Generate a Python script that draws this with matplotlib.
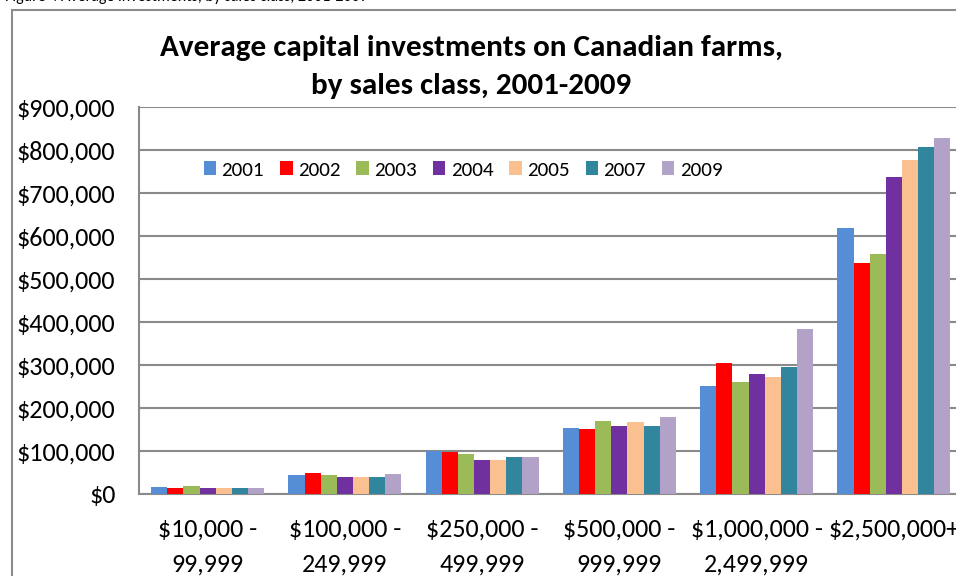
import numpy as np
import matplotlib
matplotlib.use("Agg")
import matplotlib.pyplot as plt
from matplotlib.patches import Rectangle
from matplotlib.ticker import FuncFormatter, MultipleLocator

plt.rcParams['font.family'] = ['Carlito', 'Lato', 'DejaVu Sans']

# Sales classes (x categories)
sales_classes = ["$10,000 -\n99,999", "$100,000 -\n249,999", "$250,000 -\n499,999",
                 "$500,000 -\n999,999", "$1,000,000 -\n2,499,999", "$2,500,000+"]

years = ["2001", "2002", "2003", "2004", "2005", "2007", "2009"]

# Average capital investment per farm, dollars
inv_2001 = [16000, 44000, 99000, 154000, 252000, 618000]
inv_2002 = [15000, 48000, 98500, 151500, 304000, 536000]
inv_2003 = [18000, 45000, 93000, 169000, 260000, 557000]
inv_2004 = [15000, 40000, 79000, 158500, 279000, 736000]
inv_2005 = [15000, 39000, 79000, 167000, 273000, 775000]
inv_2007 = [15000, 40000, 86000, 157000, 294000, 806000]
inv_2009 = [15000, 46000, 86000, 178500, 384000, 827000]
series = [inv_2001, inv_2002, inv_2003, inv_2004, inv_2005, inv_2007, inv_2009]

colors = ["#558ED5", "#FF0000", "#9BBB59", "#7030A0", "#FAC090", "#31859C", "#B3A2C7"]

W, H = 956, 576
fig = plt.figure(figsize=(W / 100, H / 100), dpi=100)

# Outer chart frame
fig.patches.append(Rectangle((12 / W, -0.2), 1.5, (H - 9.5) / H + 0.2,
                             transform=fig.transFigure, fill=False,
                             edgecolor="#8c8c8c", linewidth=1.5, zorder=0))

# Caption above the chart frame
fig.text(5 / W, 1 - 1.2 / H, "Figure 4 Average investments, by sales class, 2001-2009",
         fontsize=11.5, ha="left", va="baseline", color="black")

left, right, bottom, top = 139, 962.5, 494, 106.7
ax = fig.add_axes([left / W, (H - bottom) / H, (right - left) / W, (bottom - top) / H])

n = len(series)
bw = 1 / (n + 1.5)
x = np.arange(len(sales_classes))
for i, (vals, yr, c) in enumerate(zip(series, years, colors)):
    ax.bar(x + (i - (n - 1) / 2) * bw, vals, width=bw, color=c, label=yr,
           linewidth=0, zorder=3)

ax.set_xlim(-0.5, len(sales_classes) - 0.5)
ax.set_ylim(0, 900000)
ax.yaxis.set_major_locator(MultipleLocator(100000))
ax.yaxis.set_major_formatter(FuncFormatter(lambda v, p: f"${v:,.0f}"))
ax.grid(axis="y", color="#8a8a8a", linewidth=1.5, zorder=1)
ax.set_axisbelow(True)

for s in ("top", "right"):
    ax.spines[s].set_visible(False)
for s in ("left", "bottom"):
    ax.spines[s].set_color("#8a8a8a")
    ax.spines[s].set_linewidth(1.5)

ax.set_xticks(x)
ax.set_xticklabels(sales_classes, fontsize=18.7, linespacing=1.62)
ax.tick_params(axis="x", length=0, pad=17)
ax.tick_params(axis="y", length=0, pad=17, labelsize=18.8)

ax.legend(loc="center", bbox_to_anchor=((463 - left) / (right - left), (bottom - 170) / (bottom - top)),
          ncol=7, frameon=False, fontsize=15.2, handlelength=0.6, handleheight=0.6,
          handletextpad=0.25, columnspacing=0.75, borderpad=0)

fig.text(471 / W, (H - 67) / H, "Average capital investments on Canadian farms,\nby sales class, 2001-2009",
         ha="center", va="center", fontsize=22.4, fontweight="bold", linespacing=1.55)

fig.savefig("out.png", dpi=100)
